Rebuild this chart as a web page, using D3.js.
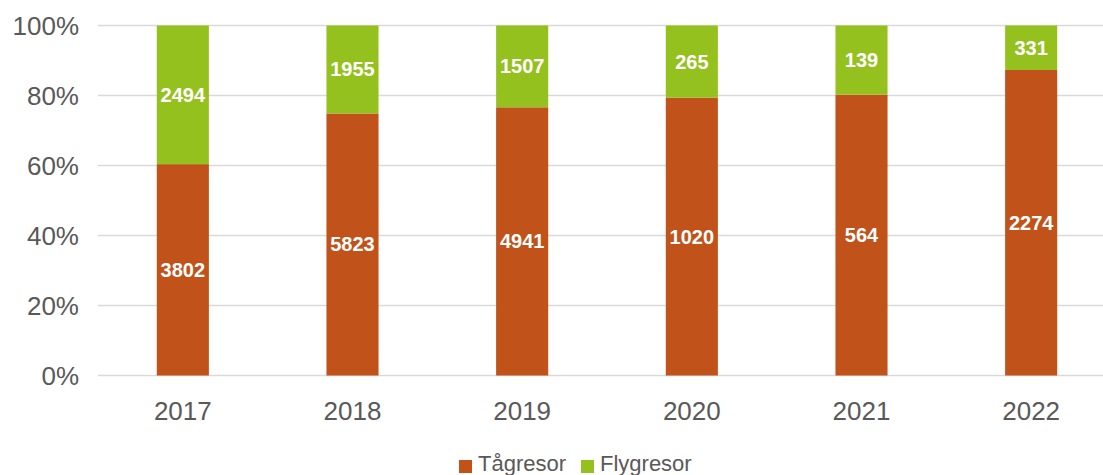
<!DOCTYPE html>
<html>
<head>
<meta charset="utf-8">
<script src="https://cdn.jsdelivr.net/npm/d3@7"></script>
<style>
  body { margin: 0; background: #fff; }
  svg { font-family: "Liberation Sans", Arial, sans-serif; }
</style>
</head>
<body>
<div id="chart"></div>
<script>
const years = ["2017", "2018", "2019", "2020", "2021", "2022"];
const tag = [3802, 5823, 4941, 1020, 564, 2274];
const fly = [2494, 1955, 1507, 265, 139, 331];
const seriesNames = ["Tågresor", "Flygresor"];
const yTicks = [0, 0.2, 0.4, 0.6, 0.8, 1];

const colors = { "Tågresor": "#C0521A", "Flygresor": "#95C11F" };

const width = 1103, height = 475;
const margin = { top: 25.5, left: 98, bottom: 99.5 };

const svg = d3.select("#chart").append("svg")
    .attr("width", width)
    .attr("height", height);

// table of rows for the stack
const rows = years.map((y, i) => ({ year: y, "Tågresor": tag[i], "Flygresor": fly[i] }));
const stacked = d3.stack().keys(seriesNames).offset(d3.stackOffsetExpand)(rows);

const x = d3.scaleBand()
    .domain(years)
    .range([margin.left, 1116])
    .paddingInner(0.693)
    .paddingOuter(0.3465);

const y = d3.scaleLinear()
    .domain([0, 1])
    .range([height - margin.bottom, margin.top]);

// gridlines
svg.append("g")
    .selectAll("line")
    .data(yTicks)
    .join("line")
    .attr("x1", margin.left)
    .attr("x2", 1116)
    .attr("y1", d => y(d))
    .attr("y2", d => y(d))
    .attr("stroke", "#d9d9d9")
    .attr("stroke-width", 1.3);

// y axis labels
const yAxis = svg.append("g")
    .attr("transform", `translate(${margin.left},0)`)
    .call(d3.axisLeft(y).tickValues(yTicks).tickFormat(d3.format(".0%")).tickSize(0).tickPadding(19));
yAxis.select(".domain").remove();
yAxis.selectAll("text")
    .attr("fill", "#595959")
    .style("font-size", "26px")
    .attr("dy", "0.35em");

// x axis labels
const xAxis = svg.append("g")
    .attr("transform", `translate(0,${y(0)})`)
    .call(d3.axisBottom(x).tickSize(0).tickPadding(26));
xAxis.select(".domain").remove();
xAxis.selectAll("text")
    .attr("fill", "#595959")
    .style("font-size", "26px")
    .attr("dy", "0.71em");

// bars
const layers = svg.append("g")
    .selectAll("g")
    .data(stacked)
    .join("g")
    .attr("fill", d => colors[d.key]);

layers.selectAll("rect")
    .data(d => d)
    .join("rect")
    .attr("x", d => x(d.data.year))
    .attr("y", d => y(d[1]))
    .attr("width", x.bandwidth())
    .attr("height", d => y(d[0]) - y(d[1]));

// value labels
layers.selectAll("text")
    .data(d => d.map(p => ({ p, key: d.key })))
    .join("text")
    .attr("x", d => x(d.p.data.year) + x.bandwidth() / 2)
    .attr("y", d => (y(d.p[0]) + y(d.p[1])) / 2)
    .attr("dy", "0.35em")
    .attr("text-anchor", "middle")
    .attr("fill", "#fff")
    .style("font-size", "20px")
    .style("font-weight", "bold")
    .text(d => d.p.data[d.key]);

// legend
const legendX = [459, 581];
const legend = svg.append("g")
    .selectAll("g")
    .data(seriesNames)
    .join("g")
    .attr("transform", (d, i) => `translate(${legendX[i]},460)`);

legend.append("rect")
    .attr("width", 13)
    .attr("height", 13)
    .attr("fill", d => colors[d]);

legend.append("text")
    .attr("x", 19)
    .attr("y", 10.5)
    .attr("fill", "#595959")
    .style("font-size", "22px")
    .text(d => d);
</script>
</body>
</html>
